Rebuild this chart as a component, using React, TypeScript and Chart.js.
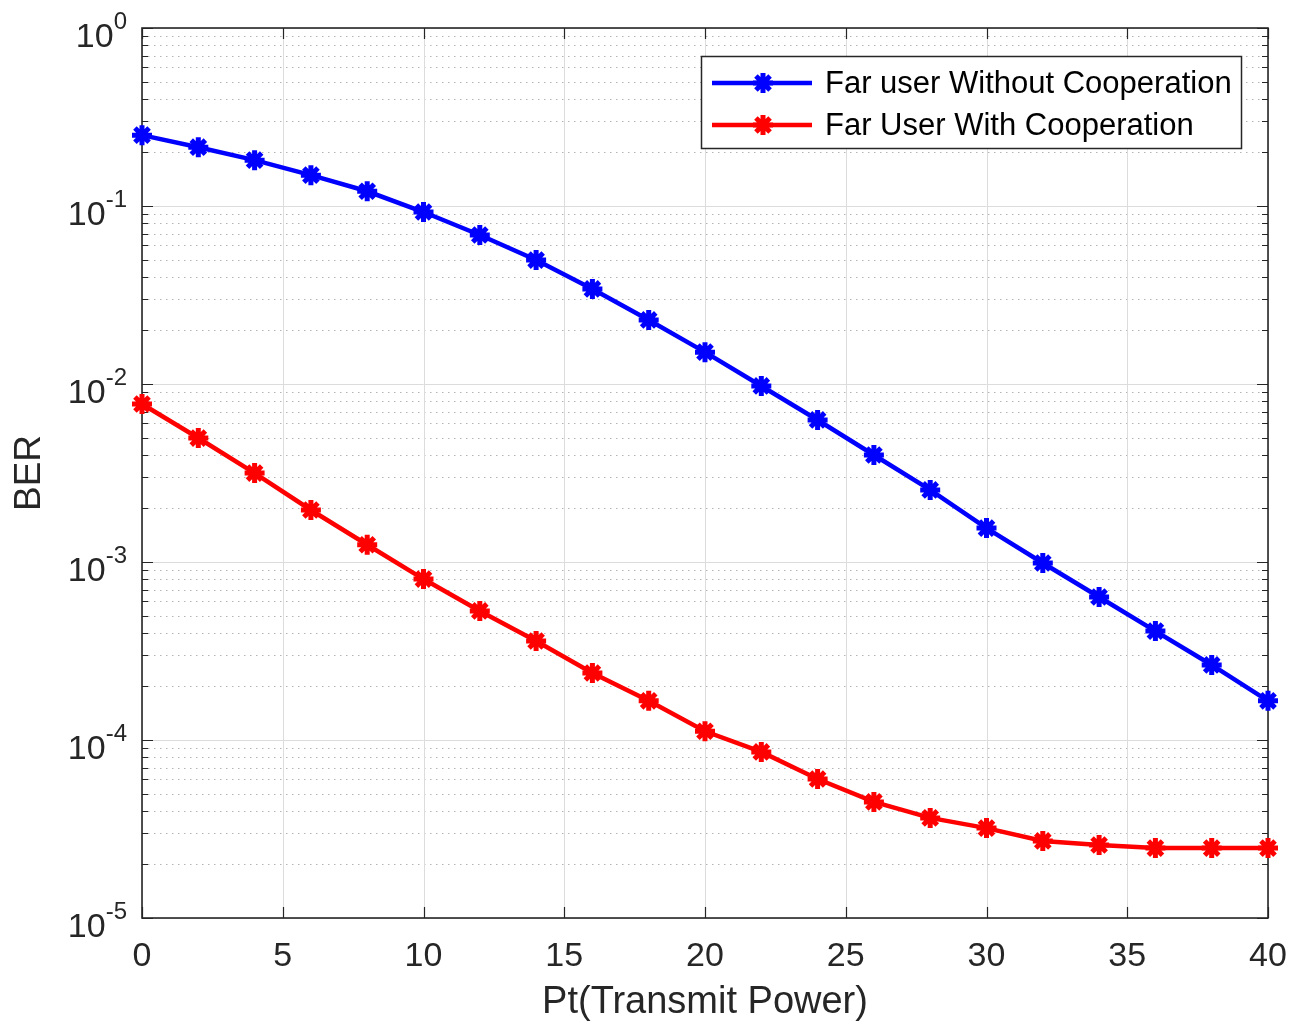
import React, { useEffect, useRef } from 'react';
import { Chart, registerables } from 'chart.js';

Chart.register(...registerables);

// ---------- data ----------
const powerLevels = [0, 2, 4, 6, 8, 10, 12, 14, 16, 18, 20, 22, 24, 26, 28, 30, 32, 34, 36, 38, 40];
const berWithoutCoop = [
  0.25, 0.214, 0.181, 0.149, 0.121, 0.0925, 0.0687, 0.0497, 0.0342, 0.0229, 0.0151,
  0.00975, 0.00628, 0.00399, 0.00254, 0.00155, 0.000987, 0.000636, 0.000409, 0.000264, 0.000166,
];
const berWithCoop = [
  0.00772, 0.00497, 0.00316, 0.00196, 0.00125, 0.000802, 0.000531, 0.00036, 0.000238, 0.000166,
  0.000112, 8.57e-5, 6.04e-5, 4.49e-5, 3.65e-5, 3.2e-5, 2.71e-5, 2.57e-5, 2.47e-5, 2.47e-5, 2.47e-5,
];
const seriesLabels = ['Far user Without Cooperation', 'Far User With Cooperation'];
const seriesColors = ['#0000ff', '#ff0000'];
const xTickValues = [0, 5, 10, 15, 20, 25, 30, 35, 40];
const yDecadeExponents = [0, -1, -2, -3, -4, -5];
const xAxisTitle = 'Pt(Transmit Power)';
const yAxisTitle = 'BER';

const FONT = "'Liberation Sans', Arial, Helvetica, sans-serif";
const AXIS_COLOR = '#262626';

function drawAsterisk(ctx: CanvasRenderingContext2D, x: number, y: number, r: number) {
  ctx.beginPath();
  for (let k = 0; k < 4; k++) {
    const a = (k * Math.PI) / 4;
    ctx.moveTo(x - r * Math.cos(a), y - r * Math.sin(a));
    ctx.lineTo(x + r * Math.cos(a), y + r * Math.sin(a));
  }
  ctx.stroke();
}

const matlabFrame = {
  id: 'matlabFrame',
  beforeDatasetsDraw(chart: any) {
    const { ctx, chartArea } = chart;
    const { left, right, top, bottom } = chartArea;
    const xs = chart.scales.x;
    const ys = chart.scales.y;
    ctx.save();
    // minor dotted horizontal grid
    ctx.lineWidth = 1;
    ctx.strokeStyle = '#b4b4b4';
    ctx.setLineDash([1.5, 4.5]);
    for (const e of yDecadeExponents) {
      if (e === 0) continue;
      for (let m = 2; m <= 9; m++) {
        const py = Math.round(ys.getPixelForValue(m * Math.pow(10, e))) + 0.5;
        ctx.beginPath();
        ctx.moveTo(left, py);
        ctx.lineTo(right, py);
        ctx.stroke();
      }
    }
    ctx.setLineDash([]);
    // major grid
    ctx.strokeStyle = '#dcdcdc';
    for (const e of yDecadeExponents) {
      const py = Math.round(ys.getPixelForValue(Math.pow(10, e))) + 0.5;
      ctx.beginPath();
      ctx.moveTo(left, py);
      ctx.lineTo(right, py);
      ctx.stroke();
    }
    for (const v of xTickValues) {
      const px = Math.round(xs.getPixelForValue(v)) + 0.5;
      ctx.beginPath();
      ctx.moveTo(px, top);
      ctx.lineTo(px, bottom);
      ctx.stroke();
    }
    // tick marks (inside, mirrored)
    ctx.strokeStyle = AXIS_COLOR;
    ctx.lineWidth = 1.2;
    for (const e of yDecadeExponents) {
      for (let m = 1; m <= 9; m++) {
        if (e === 0 && m > 1) continue;
        const len = m === 1 ? 11 : 6;
        const py = Math.round(ys.getPixelForValue(m * Math.pow(10, e))) + 0.5;
        ctx.beginPath();
        ctx.moveTo(left, py);
        ctx.lineTo(left + len, py);
        ctx.moveTo(right, py);
        ctx.lineTo(right - len, py);
        ctx.stroke();
      }
    }
    for (const v of xTickValues) {
      const px = Math.round(xs.getPixelForValue(v)) + 0.5;
      ctx.beginPath();
      ctx.moveTo(px, bottom);
      ctx.lineTo(px, bottom - 11);
      ctx.moveTo(px, top);
      ctx.lineTo(px, top + 11);
      ctx.stroke();
    }
    // box
    ctx.lineWidth = 1.6;
    ctx.strokeRect(left, top, right - left, bottom - top);
    ctx.restore();
  },
  afterDraw(chart: any) {
    const { ctx, chartArea } = chart;
    const ys = chart.scales.y;
    ctx.save();
    // y tick labels with superscript exponents
    ctx.fillStyle = AXIS_COLOR;
    ctx.textBaseline = 'alphabetic';
    ctx.textAlign = 'left';
    const rightEdge = chartArea.left - 15;
    for (const e of yDecadeExponents) {
      const py = ys.getPixelForValue(Math.pow(10, e));
      const base = '10';
      const exp = String(e);
      ctx.font = `34px ${FONT}`;
      const wb = ctx.measureText(base).width;
      ctx.font = `24px ${FONT}`;
      const we = ctx.measureText(exp).width;
      const x0 = rightEdge - wb - we;
      ctx.font = `34px ${FONT}`;
      ctx.fillText(base, x0, py + 19);
      ctx.font = `24px ${FONT}`;
      ctx.fillText(exp, x0 + wb, py + 1);
    }
    // legend
    const bx = 701, by = 56, bw = 540, bh = 92;
    ctx.fillStyle = '#ffffff';
    ctx.fillRect(bx, by, bw, bh);
    ctx.strokeStyle = AXIS_COLOR;
    ctx.lineWidth = 1.5;
    ctx.strokeRect(bx + 0.5, by + 0.5, bw, bh);
    const rows = [83, 125];
    chart.data.datasets.forEach((ds: any, i: number) => {
      const ry = rows[i];
      ctx.strokeStyle = ds.borderColor;
      ctx.lineWidth = 4.5;
      ctx.beginPath();
      ctx.moveTo(712, ry);
      ctx.lineTo(812, ry);
      ctx.stroke();
      ctx.lineWidth = 5;
      drawAsterisk(ctx, 763, ry, 10);
      ctx.fillStyle = '#000000';
      ctx.font = `31px ${FONT}`;
      ctx.textBaseline = 'middle';
      ctx.fillText(ds.label, 825, ry + 1);
    });
    ctx.restore();
  },
};

export default function App() {
  const canvasRef = useRef<HTMLCanvasElement | null>(null);

  useEffect(() => {
    document.body.style.margin = '0';
    const canvas = canvasRef.current;
    if (!canvas) return;
    const seriesValues = [berWithoutCoop, berWithCoop];
    const chart = new Chart(canvas, {
      type: 'line',
      data: {
        datasets: seriesValues.map((vals, i) => ({
          label: seriesLabels[i],
          data: powerLevels.map((x, j) => ({ x, y: vals[j] })),
          borderColor: seriesColors[i],
          backgroundColor: seriesColors[i],
          borderWidth: 4.5,
          pointStyle: 'star',
          pointRadius: 10,
          pointBorderWidth: 5,
          pointBorderColor: seriesColors[i],
          pointBackgroundColor: seriesColors[i],
          tension: 0,
          fill: false,
          clip: false as any,
        })),
      },
      options: {
        responsive: false,
        animation: false,
        devicePixelRatio: 1,
        layout: { padding: { top: 28, right: 38, left: 0, bottom: 0 } },
        plugins: {
          legend: { display: false },
          tooltip: { enabled: false },
        },
        scales: {
          x: {
            type: 'linear',
            min: 0,
            max: 40,
            grid: { display: false, drawTicks: false },
            border: { display: false },
            afterBuildTicks: (scale: any) => {
              scale.ticks = xTickValues.map((v) => ({ value: v }));
            },
            afterFit: (scale: any) => {
              scale.height = 107;
            },
            ticks: {
              font: { family: FONT, size: 34 },
              color: AXIS_COLOR,
              padding: 18,
              maxRotation: 0,
              autoSkip: false,
            },
            title: {
              display: true,
              text: xAxisTitle,
              font: { family: FONT, size: 38 },
              color: AXIS_COLOR,
              padding: { top: 0, bottom: 0 },
            },
          },
          y: {
            type: 'logarithmic',
            min: 1e-5,
            max: 1,
            grid: { display: false, drawTicks: false },
            border: { display: false },
            ticks: { display: false },
            afterFit: (scale: any) => {
              scale.width = 142;
            },
            title: {
              display: true,
              text: yAxisTitle,
              font: { family: FONT, size: 37 },
              color: AXIS_COLOR,
              padding: { top: 8, bottom: 0 },
            },
          },
        },
      },
      plugins: [matlabFrame],
    });
    return () => chart.destroy();
  }, []);

  return <canvas ref={canvasRef} width={1306} height={1025} style={{ display: 'block' }} />;
}
